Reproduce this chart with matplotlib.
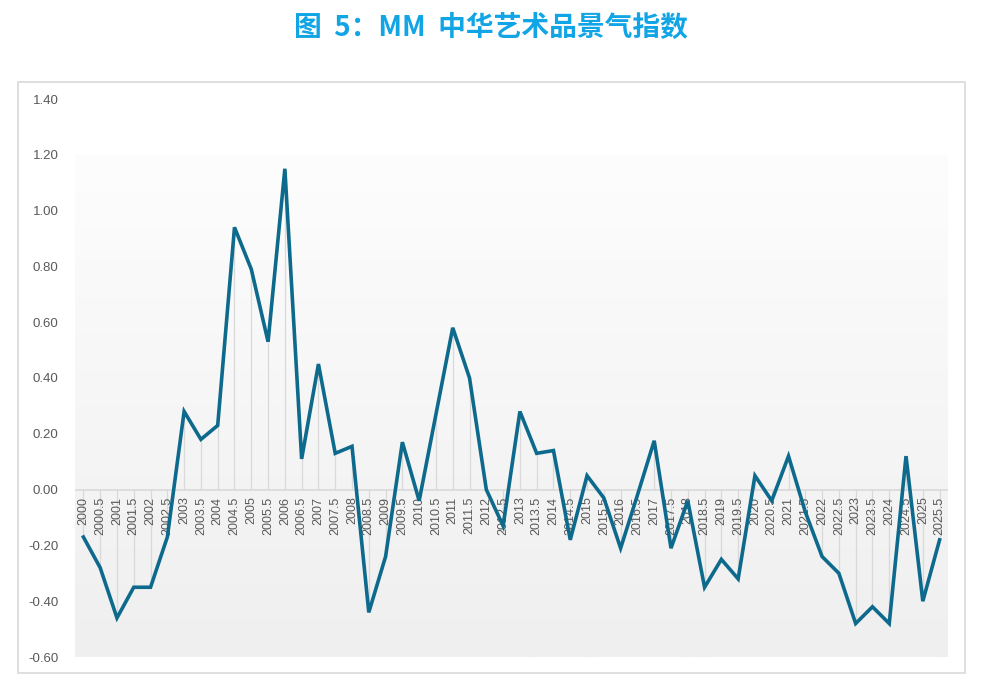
import numpy as np
import matplotlib.pyplot as plt
from matplotlib.patches import Rectangle

plt.rcParams['font.family'] = ['Noto Sans CJK SC', 'DejaVu Sans']

title = '图  5：MM  中华艺术品景气指数'

periods = ['2000', '2000.5', '2001', '2001.5', '2002', '2002.5', '2003', '2003.5',
           '2004', '2004.5', '2005', '2005.5', '2006', '2006.5', '2007', '2007.5',
           '2008', '2008.5', '2009', '2009.5', '2010', '2010.5', '2011', '2011.5',
           '2012', '2012.5', '2013', '2013.5', '2014', '2014.5', '2015', '2015.5',
           '2016', '2016.5', '2017', '2017.5', '2018', '2018.5', '2019', '2019.5',
           '2020', '2020.5', '2021', '2021.5', '2022', '2022.5', '2023', '2023.5',
           '2024', '2024.5', '2025', '2025.5']

index = [-0.17, -0.28, -0.46, -0.35, -0.35, -0.17, 0.28, 0.18,
         0.23, 0.94, 0.79, 0.53, 1.15, 0.11, 0.45, 0.13,
         0.155, -0.44, -0.24, 0.17, -0.04, 0.27, 0.58, 0.40,
         0.00, -0.13, 0.28, 0.13, 0.14, -0.18, 0.05, -0.03,
         -0.21, -0.02, 0.175, -0.21, -0.04, -0.35, -0.25, -0.32,
         0.05, -0.04, 0.12, -0.08, -0.24, -0.30, -0.48, -0.42,
         -0.48, 0.12, -0.40, -0.18]

yticks = [-0.6, -0.4, -0.2, 0.0, 0.2, 0.4, 0.6, 0.8, 1.0, 1.2, 1.4]

W, H = 982, 688
fig = plt.figure(figsize=(W / 100, H / 100), dpi=100)

# outer frame
fig.patches.append(Rectangle((18 / W, 1 - 673 / H), 947 / W, 591 / H,
                             transform=fig.transFigure, fill=False,
                             edgecolor='#d9d9d9', linewidth=1.2))

fig.text(0.5, 1 - 28 / H, title, ha='center', va='center',
         fontsize=20, fontweight='bold', color='#12a5e6')

ax = fig.add_axes([75 / W, 1 - 657 / H, 873 / W, 558 / H])
x = np.arange(len(periods))
ax.set_xlim(-0.5, len(periods) - 0.5)
ax.set_ylim(-0.6, 1.4)

# gradient background
grad = np.linspace(0, 1, 256).reshape(-1, 1)
ax.imshow(grad, extent=(-0.5, len(periods) - 0.5, -0.6, 1.2), aspect='auto',
          cmap=plt.matplotlib.colors.LinearSegmentedColormap.from_list(
              'bg', ['#efefef', '#fdfdfd']), origin='lower', zorder=0)

ax.vlines(x, 0, index, color='#d9d9d9', linewidth=0.9, zorder=1)
ax.axhline(0, color='#d9d9d9', linewidth=1.2, zorder=1)
ax.plot(x, index, color='#0e6a8c', linewidth=2.6, zorder=3,
        solid_joinstyle='miter')

for xi, lab in zip(x, periods):
    ax.text(xi, -0.025, lab, rotation=90, ha='center', va='top',
            fontsize=9, color='#595959', zorder=2,
            family=['Liberation Sans', 'DejaVu Sans'])

ax.set_yticks(yticks)
ax.set_yticklabels(['%.2f' % v for v in yticks], fontsize=9.5, color='#595959',
                   family=['Liberation Sans', 'DejaVu Sans'])
ax.tick_params(axis='y', length=0, pad=12)
ax.set_xticks([])
for s in ax.spines.values():
    s.set_visible(False)

fig.savefig('out.png', dpi=100)
